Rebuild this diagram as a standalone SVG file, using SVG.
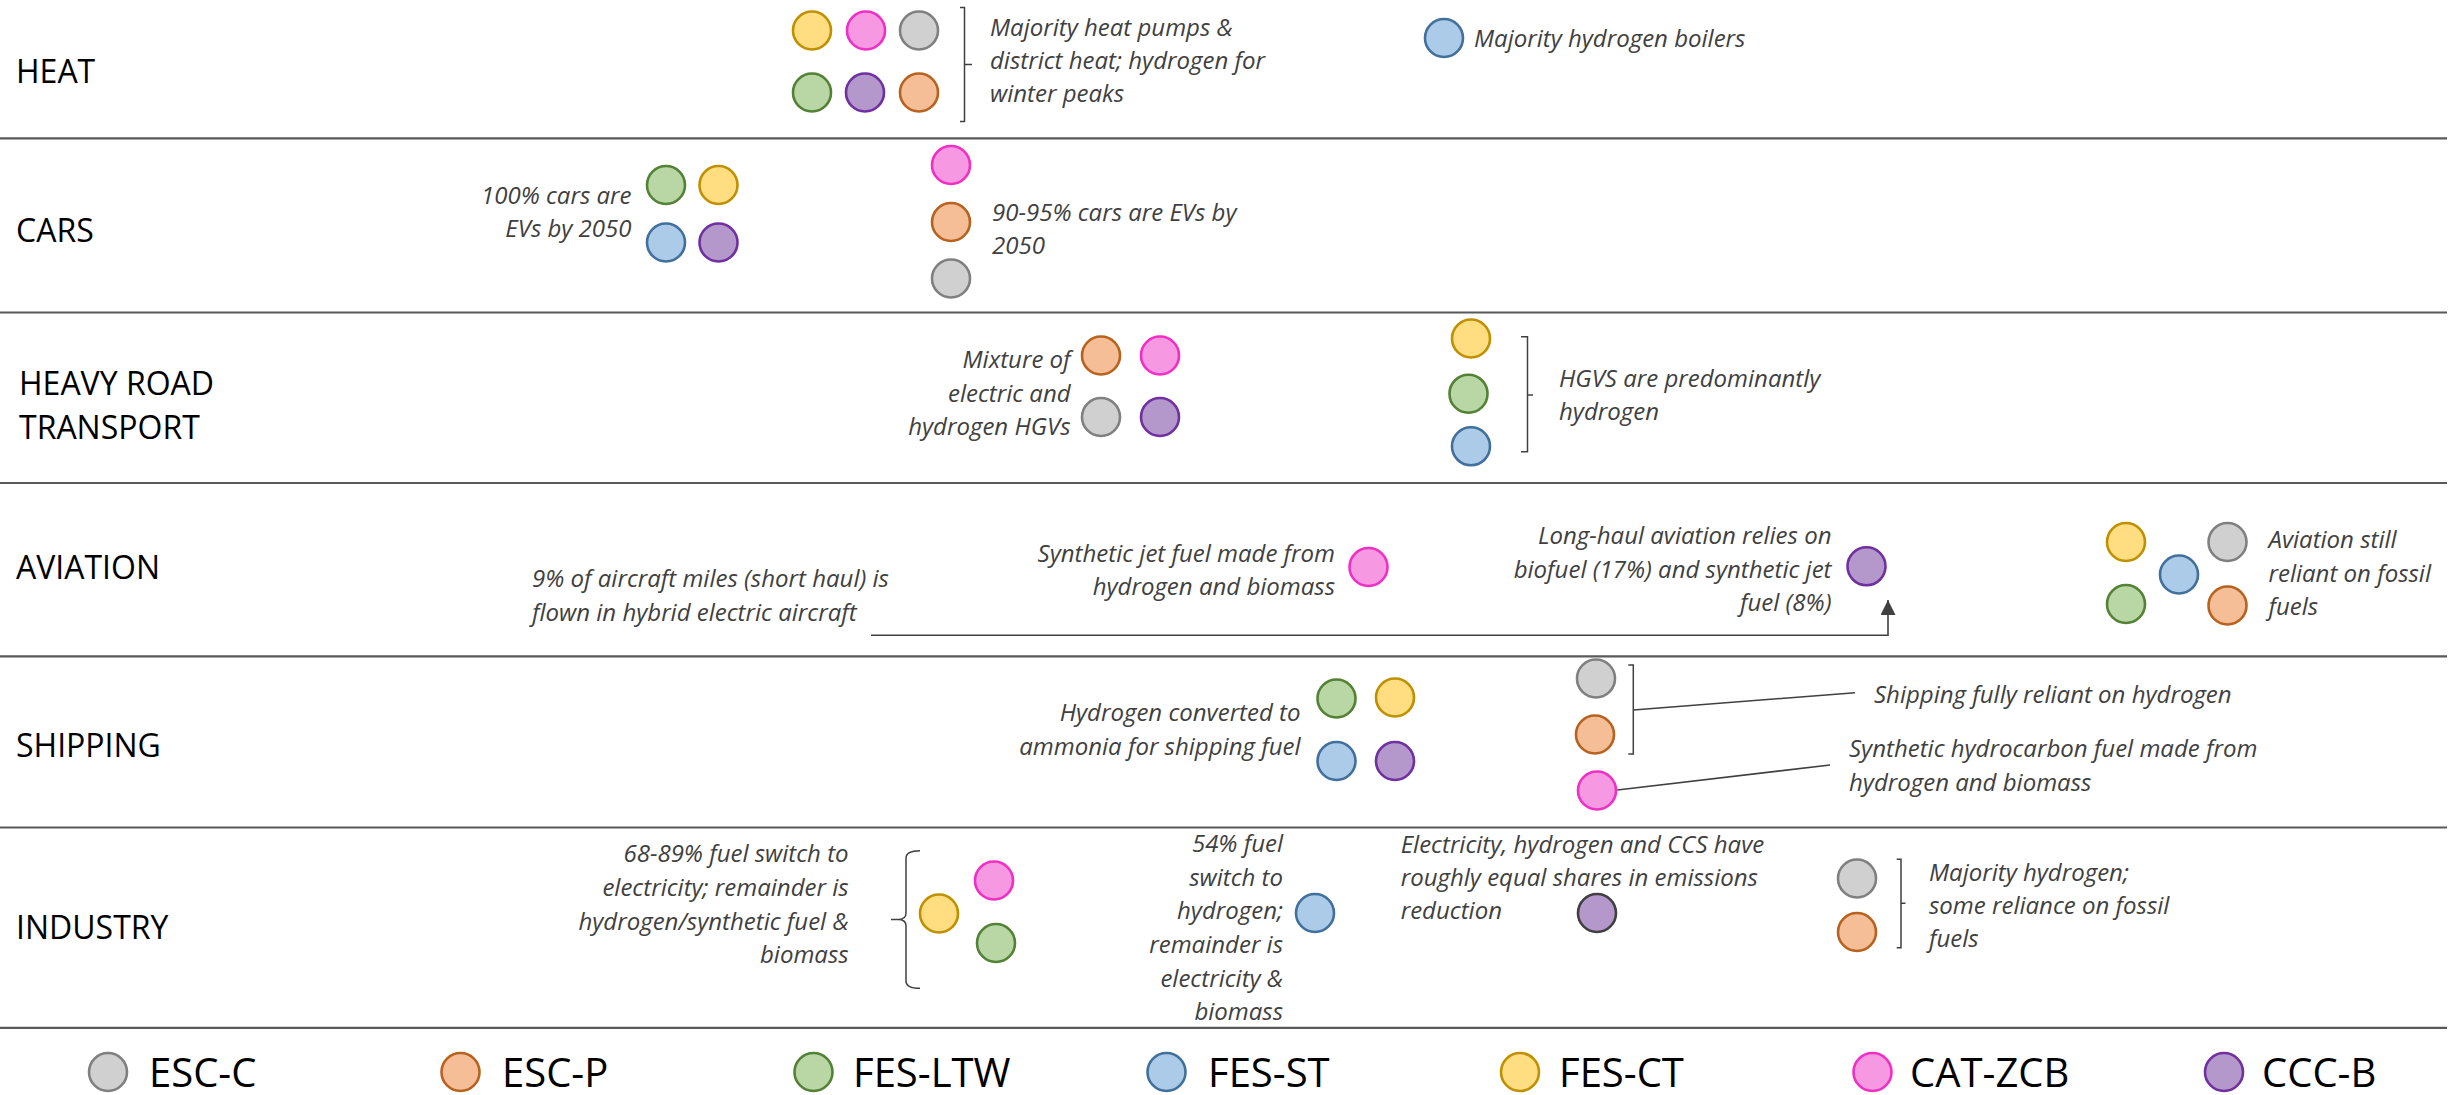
<svg xmlns="http://www.w3.org/2000/svg" width="2458" height="1095" viewBox="0 0 2458 1095">
<style>
.bg{fill:#ffffff}
.sep{stroke:#595959;stroke-width:2.2;fill:none}
.row{font-family:"Open Sans","Liberation Sans",sans-serif;font-size:32px;fill:#000}
.note{font-family:"Open Sans","Liberation Sans",sans-serif;font-size:24px;font-style:italic;fill:#404040}
.end{text-anchor:end}
.leg{font-family:"Open Sans","Liberation Sans",sans-serif;font-size:40px;fill:#000}
circle{stroke-width:2.6}
.escc{fill:#d0d0d0;stroke:#808080}
.escp{fill:#f5be96;stroke:#b8621f}
.ltw{fill:#b9d7a5;stroke:#538135}
.st{fill:#abcbe9;stroke:#41709c}
.ct{fill:#ffdd80;stroke:#bf9000}
.zcb{fill:#f799e2;stroke:#f02fc4}
.cccb{fill:#b498cc;stroke:#7030a0}
.dark{stroke:#404040}
.brk{stroke:#404040;stroke-width:1.5;fill:none}
.con{stroke:#404040;stroke-width:1.6;fill:none}
</style>
<defs>
<marker id="arr" viewBox="0 0 10 10" refX="10" refY="5" markerWidth="15" markerHeight="15" markerUnits="userSpaceOnUse" orient="auto">
<path d="M0,0 L10,5 L0,10 z" fill="#404040"/>
</marker>
</defs>
<rect class="bg" x="0" y="0" width="2458" height="1095"/>

<g id="separators">
<line class="sep" x1="0" y1="138.3" x2="2447" y2="138.3"/>
<line class="sep" x1="0" y1="312.5" x2="2447" y2="312.5"/>
<line class="sep" x1="0" y1="483" x2="2447" y2="483"/>
<line class="sep" x1="0" y1="656.3" x2="2447" y2="656.3"/>
<line class="sep" x1="0" y1="827.5" x2="2447" y2="827.5"/>
<line class="sep" x1="0" y1="1027.8" x2="2447" y2="1027.8"/>
</g>

<g id="row-labels">
<text class="row" x="16" y="83">HEAT</text>
<text class="row" x="16" y="242">CARS</text>
<text class="row" x="19" y="395">HEAVY ROAD</text>
<text class="row" x="19" y="438.5">TRANSPORT</text>
<text class="row" x="16" y="579">AVIATION</text>
<text class="row" x="16" y="757">SHIPPING</text>
<text class="row" x="16" y="939">INDUSTRY</text>
</g>

<!-- HEAT -->
<g id="heat-heatpumps">
<circle class="ct" cx="812" cy="30.5" r="19"/>
<circle class="zcb" cx="866" cy="30.5" r="19"/>
<circle class="escc" cx="919" cy="30.5" r="19"/>
<circle class="ltw" cx="812" cy="92.5" r="19"/>
<circle class="cccb" cx="865" cy="92.5" r="19"/>
<circle class="escp" cx="919" cy="92.5" r="19"/>
<path class="brk" d="M960,7.5 H964.5 V121.5 H960 M964.5,64.5 H972"/>
<text class="note" x="990" y="35.5">Majority heat pumps &amp;</text>
<text class="note" x="990" y="69">district heat; hydrogen for</text>
<text class="note" x="990" y="102">winter peaks</text>
</g>
<g id="heat-hydrogen">
<circle class="st" cx="1444" cy="38" r="19"/>
<text class="note" x="1474" y="46.7">Majority hydrogen boilers</text>
</g>

<!-- CARS -->
<g id="cars-100">
<circle class="ltw" cx="666" cy="185" r="19"/>
<circle class="ct" cx="718.5" cy="185" r="19"/>
<circle class="st" cx="666" cy="242.5" r="19"/>
<circle class="cccb" cx="718.5" cy="242.5" r="19"/>
<text class="note end" x="631.5" y="204">100% cars are</text>
<text class="note end" x="631.5" y="237.3">EVs by 2050</text>
</g>
<g id="cars-90">
<circle class="zcb" cx="951" cy="165" r="19"/>
<circle class="escp" cx="951" cy="222" r="19"/>
<circle class="escc" cx="951" cy="278.5" r="19"/>
<text class="note" x="992" y="221">90-95% cars are EVs by</text>
<text class="note" x="992" y="254">2050</text>
</g>

<!-- HEAVY ROAD -->
<g id="hgv-mixture">
<circle class="escp" cx="1101" cy="355.5" r="19"/>
<circle class="zcb" cx="1160" cy="355.5" r="19"/>
<circle class="escc" cx="1101" cy="417" r="19"/>
<circle class="cccb" cx="1160" cy="417" r="19"/>
<text class="note end" x="1070.6" y="368.3">Mixture of</text>
<text class="note end" x="1070.6" y="402">electric and</text>
<text class="note end" x="1070.6" y="435">hydrogen HGVs</text>
</g>
<g id="hgv-hydrogen">
<circle class="ct" cx="1471" cy="338.5" r="19"/>
<circle class="ltw" cx="1468.5" cy="393.7" r="19"/>
<circle class="st" cx="1471" cy="446.3" r="19"/>
<path class="brk" d="M1521,336.7 H1527.5 V451.7 H1521 M1527.5,395 H1533"/>
<text class="note" x="1559" y="386.7">HGVS are predominantly</text>
<text class="note" x="1559" y="419.5">hydrogen</text>
</g>

<!-- AVIATION -->
<g id="avi-hybrid">
<text class="note" x="532" y="587.3">9% of aircraft miles (short haul) is</text>
<text class="note" x="532" y="621">flown in hybrid electric aircraft</text>
</g>
<g id="avi-synthetic">
<circle class="zcb" cx="1368.5" cy="567" r="19"/>
<text class="note end" x="1335" y="561.7">Synthetic jet fuel made from</text>
<text class="note end" x="1335" y="595">hydrogen and biomass</text>
</g>
<g id="avi-longhaul">
<circle class="cccb" cx="1866.5" cy="566.3" r="19"/>
<text class="note end" x="1831.5" y="544.3">Long-haul aviation relies on</text>
<text class="note end" x="1831.5" y="577.5">biofuel (17%) and synthetic jet</text>
<text class="note end" x="1831.5" y="611">fuel (8%)</text>
</g>
<g id="avi-fossil">
<circle class="ct" cx="2126" cy="542" r="19"/>
<circle class="escc" cx="2227.5" cy="542" r="19"/>
<circle class="st" cx="2179" cy="574.5" r="19"/>
<circle class="ltw" cx="2126" cy="604" r="19"/>
<circle class="escp" cx="2227.5" cy="605.5" r="19"/>
<text class="note" x="2268.5" y="548.3">Aviation still</text>
<text class="note" x="2268.5" y="581.7">reliant on fossil</text>
<text class="note" x="2268.5" y="615">fuels</text>
</g>

<!-- SHIPPING -->
<g id="ship-ammonia">
<circle class="ltw" cx="1336.5" cy="698.5" r="19"/>
<circle class="ct" cx="1395" cy="697.5" r="19"/>
<circle class="st" cx="1336.5" cy="761" r="19"/>
<circle class="cccb" cx="1395" cy="761" r="19"/>
<text class="note end" x="1300.5" y="720.7">Hydrogen converted to</text>
<text class="note end" x="1300.5" y="755">ammonia for shipping fuel</text>
</g>
<g id="ship-hydrogen">
<circle class="escc" cx="1596" cy="678.5" r="19"/>
<circle class="escp" cx="1595" cy="734.5" r="19"/>
<path class="brk" d="M1628.3,665 H1633.3 V754 H1628.3"/>
<text class="note" x="1874" y="703.3">Shipping fully reliant on hydrogen</text>
</g>
<g id="ship-synthetic">
<circle class="zcb" cx="1597" cy="790.5" r="19"/>
<text class="note" x="1849" y="757.3">Synthetic hydrocarbon fuel made from</text>
<text class="note" x="1849" y="790.7">hydrogen and biomass</text>
</g>

<!-- INDUSTRY -->
<g id="ind-electricity">
<path class="brk" d="M920,850.7 Q906,850.7 906,858 V913 Q906,919.5 898,919.5 H891 M898,919.5 Q906,919.5 906,926 V981 Q906,988.3 920,988.3"/>
<circle class="zcb" cx="994" cy="880.5" r="19"/>
<circle class="ct" cx="939" cy="913.5" r="19"/>
<circle class="ltw" cx="996" cy="943" r="19"/>
<text class="note end" x="848.6" y="862">68-89% fuel switch to</text>
<text class="note end" x="848.6" y="896">electricity; remainder is</text>
<text class="note end" x="848.6" y="929.5">hydrogen/synthetic fuel &amp;</text>
<text class="note end" x="848.6" y="963.3">biomass</text>
</g>
<g id="ind-hydrogen54">
<circle class="st" cx="1315" cy="913" r="19"/>
<text class="note end" x="1283" y="851.7">54% fuel</text>
<text class="note end" x="1283" y="885.5">switch to</text>
<text class="note end" x="1283" y="919.3">hydrogen;</text>
<text class="note end" x="1283" y="952.8">remainder is</text>
<text class="note end" x="1283" y="986.5">electricity &amp;</text>
<text class="note end" x="1283" y="1019.5">biomass</text>
</g>
<g id="ind-ccs">
<circle class="cccb dark" cx="1597" cy="913" r="19"/>
<text class="note" x="1400.7" y="852.7">Electricity, hydrogen and CCS have</text>
<text class="note" x="1400.7" y="886">roughly equal shares in emissions</text>
<text class="note" x="1400.7" y="919.3">reduction</text>
</g>
<g id="ind-fossil">
<circle class="escc" cx="1857" cy="878.5" r="19"/>
<circle class="escp" cx="1857" cy="932" r="19"/>
<path class="brk" d="M1896.7,859.3 H1901 V947.7 H1896.7 M1901,903.3 H1905.5"/>
<text class="note" x="1929" y="880.7">Majority hydrogen;</text>
<text class="note" x="1929" y="914">some reliance on fossil</text>
<text class="note" x="1929" y="947.3">fuels</text>
</g>

<g id="connectors">
<polyline class="con" points="871,635.3 1888,635.3 1888,600" marker-end="url(#arr)"/>
<line class="con" x1="1633.3" y1="710" x2="1855" y2="692.7"/>
<line class="con" x1="1617.3" y1="790" x2="1830" y2="765"/>
</g>

<g id="legend">
<g id="leg-escc"><circle class="escc" cx="108" cy="1072" r="19"/><text class="leg" x="149" y="1086.7">ESC-C</text></g>
<g id="leg-escp"><circle class="escp" cx="460.5" cy="1072" r="19"/><text class="leg" x="502" y="1086.7">ESC-P</text></g>
<g id="leg-ltw"><circle class="ltw" cx="813.5" cy="1072" r="19"/><text class="leg" x="853" y="1086.7">FES-LTW</text></g>
<g id="leg-st"><circle class="st" cx="1166.5" cy="1072" r="19"/><text class="leg" x="1208" y="1086.7">FES-ST</text></g>
<g id="leg-ct"><circle class="ct" cx="1520" cy="1072" r="19"/><text class="leg" x="1559" y="1086.7">FES-CT</text></g>
<g id="leg-zcb"><circle class="zcb" cx="1872.5" cy="1072" r="19"/><text class="leg" x="1910" y="1086.7">CAT-ZCB</text></g>
<g id="leg-cccb"><circle class="cccb" cx="2224" cy="1072" r="19"/><text class="leg" x="2262" y="1086.7">CCC-B</text></g>
</g>
</svg>
